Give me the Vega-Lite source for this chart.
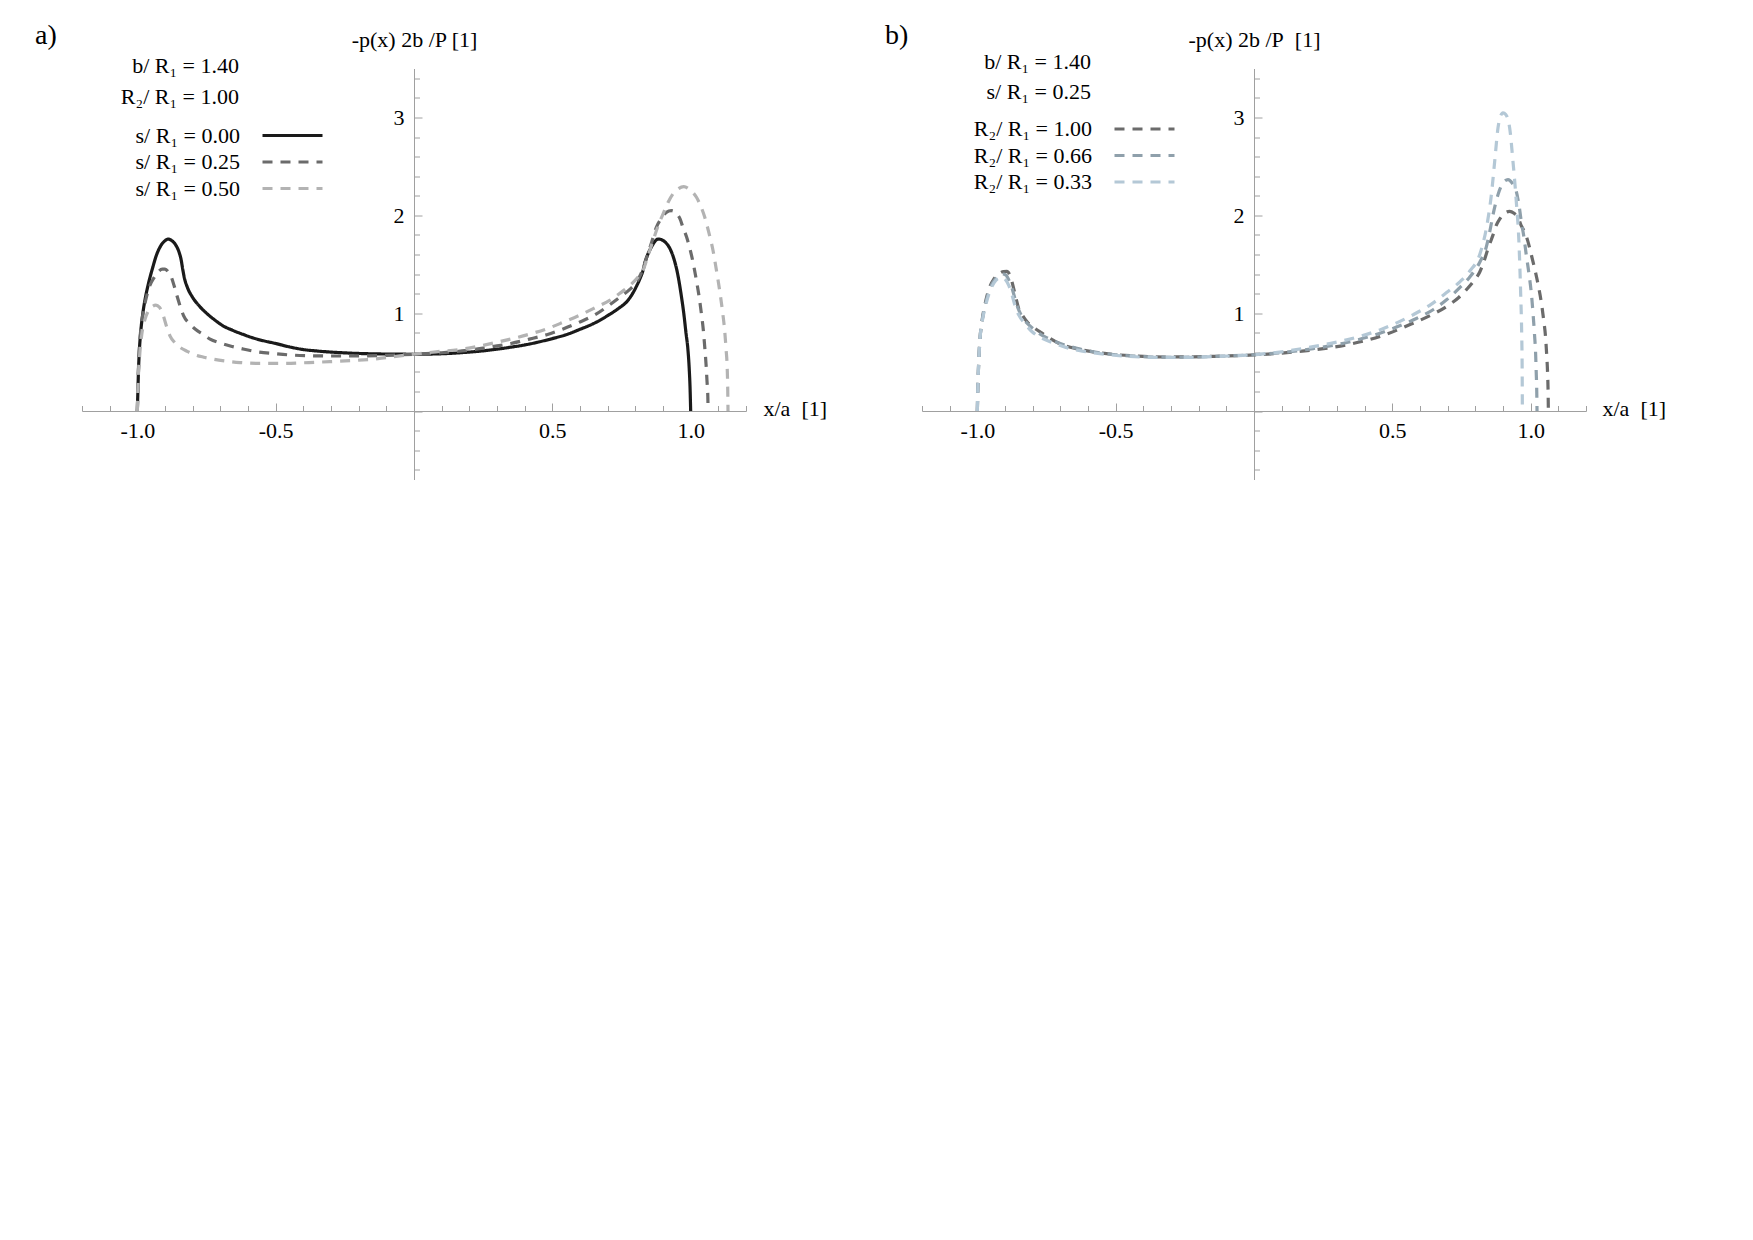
{
  "$schema": "https://vega.github.io/schema/vega-lite/v6.json",
  "background": "white",
  "padding": {"left": 35, "top": 21.5, "right": 5, "bottom": 5},
  "bounds": "flush",
  "spacing": 176,
  "resolve": {"scale": {"stroke": "independent", "strokeDash": "independent"}, "legend": {"stroke": "independent", "strokeDash": "independent"}},
  "config": {
    "font": "Liberation Serif",
    "view": {"stroke": null},
    "axis": {
      "grid": false, "domainColor": "#a0a0a0", "tickColor": "#a0a0a0", "domainWidth": 1, "tickWidth": 1,
      "labelFont": "Liberation Serif", "labelFontSize": 22, "labelColor": "black",
      "titleFont": "Liberation Serif", "titleFontSize": 22, "titleFontWeight": "normal", "titleColor": "black",
      "labelOverlap": false, "labelFlush": false
    },
    "legend": {
      "orient": "none", "padding": 0,
      "titleAlign": "right", "titleAnchor": "start", "titleFont": "Liberation Serif", "titleFontSize": 22, "titleLimit": 500,
      "titleFontWeight": "normal", "titleColor": "black",
      "labelFont": "Liberation Serif", "labelFontSize": 22, "labelColor": "black", "labelAlign": "right",
      "labelOffset": -63.5, "labelLimit": 400,
      "symbolType": "M-6,0H6", "symbolSize": 100, "symbolStrokeWidth": 3.2, "symbolOffset": 42.5,
      "rowPadding": 4.5
    },
    "title": {"font": "Liberation Serif", "fontSize": 28, "fontWeight": "normal", "color": "black", "anchor": "start", "frame": "group"}
  },
  "datasets": {
    "a": [
      {"c":"s/ R₁ = 0.00","x":-1.0,"y":0},{"c":"s/ R₁ = 0.00","x":-0.998,"y":0.2},{"c":"s/ R₁ = 0.00","x":-0.996,"y":0.4},{"c":"s/ R₁ = 0.00","x":-0.993,"y":0.6},{"c":"s/ R₁ = 0.00","x":-0.988,"y":0.8},{"c":"s/ R₁ = 0.00","x":-0.98,"y":1.0},{"c":"s/ R₁ = 0.00","x":-0.97,"y":1.17},{"c":"s/ R₁ = 0.00","x":-0.96,"y":1.3},{"c":"s/ R₁ = 0.00","x":-0.945,"y":1.46},{"c":"s/ R₁ = 0.00","x":-0.93,"y":1.6},{"c":"s/ R₁ = 0.00","x":-0.915,"y":1.69},{"c":"s/ R₁ = 0.00","x":-0.9,"y":1.74},{"c":"s/ R₁ = 0.00","x":-0.888,"y":1.757},{"c":"s/ R₁ = 0.00","x":-0.875,"y":1.74},{"c":"s/ R₁ = 0.00","x":-0.862,"y":1.7},{"c":"s/ R₁ = 0.00","x":-0.85,"y":1.63},{"c":"s/ R₁ = 0.00","x":-0.842,"y":1.55},{"c":"s/ R₁ = 0.00","x":-0.836,"y":1.45},{"c":"s/ R₁ = 0.00","x":-0.83,"y":1.36},{"c":"s/ R₁ = 0.00","x":-0.82,"y":1.27},{"c":"s/ R₁ = 0.00","x":-0.8,"y":1.16},{"c":"s/ R₁ = 0.00","x":-0.775,"y":1.07},{"c":"s/ R₁ = 0.00","x":-0.75,"y":1.0},{"c":"s/ R₁ = 0.00","x":-0.72,"y":0.93},{"c":"s/ R₁ = 0.00","x":-0.69,"y":0.87},{"c":"s/ R₁ = 0.00","x":-0.66,"y":0.83},{"c":"s/ R₁ = 0.00","x":-0.62,"y":0.785},{"c":"s/ R₁ = 0.00","x":-0.58,"y":0.745},{"c":"s/ R₁ = 0.00","x":-0.54,"y":0.715},{"c":"s/ R₁ = 0.00","x":-0.5,"y":0.69},{"c":"s/ R₁ = 0.00","x":-0.45,"y":0.655},{"c":"s/ R₁ = 0.00","x":-0.4,"y":0.628},{"c":"s/ R₁ = 0.00","x":-0.35,"y":0.613},{"c":"s/ R₁ = 0.00","x":-0.3,"y":0.602},{"c":"s/ R₁ = 0.00","x":-0.25,"y":0.594},{"c":"s/ R₁ = 0.00","x":-0.2,"y":0.588},{"c":"s/ R₁ = 0.00","x":-0.1,"y":0.582},{"c":"s/ R₁ = 0.00","x":0,"y":0.58},{"c":"s/ R₁ = 0.00","x":0.1,"y":0.585},{"c":"s/ R₁ = 0.00","x":0.175,"y":0.597},{"c":"s/ R₁ = 0.00","x":0.25,"y":0.615},{"c":"s/ R₁ = 0.00","x":0.3,"y":0.632},{"c":"s/ R₁ = 0.00","x":0.35,"y":0.652},{"c":"s/ R₁ = 0.00","x":0.4,"y":0.675},{"c":"s/ R₁ = 0.00","x":0.45,"y":0.705},{"c":"s/ R₁ = 0.00","x":0.5,"y":0.74},{"c":"s/ R₁ = 0.00","x":0.55,"y":0.78},{"c":"s/ R₁ = 0.00","x":0.6,"y":0.835},{"c":"s/ R₁ = 0.00","x":0.65,"y":0.895},{"c":"s/ R₁ = 0.00","x":0.7,"y":0.975},{"c":"s/ R₁ = 0.00","x":0.74,"y":1.05},{"c":"s/ R₁ = 0.00","x":0.77,"y":1.12},{"c":"s/ R₁ = 0.00","x":0.79,"y":1.2},{"c":"s/ R₁ = 0.00","x":0.805,"y":1.28},{"c":"s/ R₁ = 0.00","x":0.818,"y":1.36},{"c":"s/ R₁ = 0.00","x":0.827,"y":1.43},{"c":"s/ R₁ = 0.00","x":0.835,"y":1.52},{"c":"s/ R₁ = 0.00","x":0.845,"y":1.6},{"c":"s/ R₁ = 0.00","x":0.857,"y":1.67},{"c":"s/ R₁ = 0.00","x":0.87,"y":1.73},{"c":"s/ R₁ = 0.00","x":0.882,"y":1.757},{"c":"s/ R₁ = 0.00","x":0.895,"y":1.75},{"c":"s/ R₁ = 0.00","x":0.91,"y":1.72},{"c":"s/ R₁ = 0.00","x":0.925,"y":1.66},{"c":"s/ R₁ = 0.00","x":0.94,"y":1.55},{"c":"s/ R₁ = 0.00","x":0.953,"y":1.4},{"c":"s/ R₁ = 0.00","x":0.965,"y":1.2},{"c":"s/ R₁ = 0.00","x":0.975,"y":1.0},{"c":"s/ R₁ = 0.00","x":0.983,"y":0.8},{"c":"s/ R₁ = 0.00","x":0.99,"y":0.63},{"c":"s/ R₁ = 0.00","x":0.995,"y":0.42},{"c":"s/ R₁ = 0.00","x":0.998,"y":0.22},{"c":"s/ R₁ = 0.00","x":1.0,"y":0},

      {"c":"s/ R₁ = 0.25","x":-1.0,"y":0},{"c":"s/ R₁ = 0.25","x":-0.998,"y":0.25},{"c":"s/ R₁ = 0.25","x":-0.995,"y":0.5},{"c":"s/ R₁ = 0.25","x":-0.99,"y":0.75},{"c":"s/ R₁ = 0.25","x":-0.982,"y":0.95},{"c":"s/ R₁ = 0.25","x":-0.97,"y":1.13},{"c":"s/ R₁ = 0.25","x":-0.955,"y":1.28},{"c":"s/ R₁ = 0.25","x":-0.94,"y":1.36},{"c":"s/ R₁ = 0.25","x":-0.925,"y":1.42},{"c":"s/ R₁ = 0.25","x":-0.91,"y":1.45},{"c":"s/ R₁ = 0.25","x":-0.9,"y":1.45},{"c":"s/ R₁ = 0.25","x":-0.888,"y":1.42},{"c":"s/ R₁ = 0.25","x":-0.876,"y":1.36},{"c":"s/ R₁ = 0.25","x":-0.866,"y":1.27},{"c":"s/ R₁ = 0.25","x":-0.857,"y":1.18},{"c":"s/ R₁ = 0.25","x":-0.845,"y":1.07},{"c":"s/ R₁ = 0.25","x":-0.833,"y":0.975},{"c":"s/ R₁ = 0.25","x":-0.81,"y":0.89},{"c":"s/ R₁ = 0.25","x":-0.79,"y":0.835},{"c":"s/ R₁ = 0.25","x":-0.76,"y":0.78},{"c":"s/ R₁ = 0.25","x":-0.737,"y":0.735},{"c":"s/ R₁ = 0.25","x":-0.7,"y":0.695},{"c":"s/ R₁ = 0.25","x":-0.664,"y":0.665},{"c":"s/ R₁ = 0.25","x":-0.62,"y":0.635},{"c":"s/ R₁ = 0.25","x":-0.568,"y":0.605},{"c":"s/ R₁ = 0.25","x":-0.5,"y":0.585},{"c":"s/ R₁ = 0.25","x":-0.45,"y":0.573},{"c":"s/ R₁ = 0.25","x":-0.38,"y":0.565},{"c":"s/ R₁ = 0.25","x":-0.3,"y":0.562},{"c":"s/ R₁ = 0.25","x":-0.2,"y":0.563},{"c":"s/ R₁ = 0.25","x":-0.1,"y":0.569},{"c":"s/ R₁ = 0.25","x":0,"y":0.58},{"c":"s/ R₁ = 0.25","x":0.1,"y":0.595},{"c":"s/ R₁ = 0.25","x":0.2,"y":0.622},{"c":"s/ R₁ = 0.25","x":0.3,"y":0.665},{"c":"s/ R₁ = 0.25","x":0.35,"y":0.69},{"c":"s/ R₁ = 0.25","x":0.417,"y":0.734},{"c":"s/ R₁ = 0.25","x":0.48,"y":0.78},{"c":"s/ R₁ = 0.25","x":0.537,"y":0.836},{"c":"s/ R₁ = 0.25","x":0.6,"y":0.91},{"c":"s/ R₁ = 0.25","x":0.658,"y":0.99},{"c":"s/ R₁ = 0.25","x":0.7,"y":1.07},{"c":"s/ R₁ = 0.25","x":0.743,"y":1.16},{"c":"s/ R₁ = 0.25","x":0.779,"y":1.24},{"c":"s/ R₁ = 0.25","x":0.8,"y":1.3},{"c":"s/ R₁ = 0.25","x":0.82,"y":1.4},{"c":"s/ R₁ = 0.25","x":0.84,"y":1.56},{"c":"s/ R₁ = 0.25","x":0.857,"y":1.706},{"c":"s/ R₁ = 0.25","x":0.876,"y":1.877},{"c":"s/ R₁ = 0.25","x":0.895,"y":1.97},{"c":"s/ R₁ = 0.25","x":0.912,"y":2.03},{"c":"s/ R₁ = 0.25","x":0.93,"y":2.047},{"c":"s/ R₁ = 0.25","x":0.948,"y":2.02},{"c":"s/ R₁ = 0.25","x":0.962,"y":1.96},{"c":"s/ R₁ = 0.25","x":0.972,"y":1.877},{"c":"s/ R₁ = 0.25","x":0.985,"y":1.78},{"c":"s/ R₁ = 0.25","x":0.996,"y":1.672},{"c":"s/ R₁ = 0.25","x":1.01,"y":1.5},{"c":"s/ R₁ = 0.25","x":1.021,"y":1.33},{"c":"s/ R₁ = 0.25","x":1.031,"y":1.16},{"c":"s/ R₁ = 0.25","x":1.039,"y":0.99},{"c":"s/ R₁ = 0.25","x":1.046,"y":0.82},{"c":"s/ R₁ = 0.25","x":1.051,"y":0.649},{"c":"s/ R₁ = 0.25","x":1.056,"y":0.46},{"c":"s/ R₁ = 0.25","x":1.059,"y":0.307},{"c":"s/ R₁ = 0.25","x":1.062,"y":0.15},{"c":"s/ R₁ = 0.25","x":1.063,"y":0},

      {"c":"s/ R₁ = 0.50","x":-1.0,"y":0},{"c":"s/ R₁ = 0.50","x":-0.997,"y":0.3},{"c":"s/ R₁ = 0.50","x":-0.992,"y":0.55},{"c":"s/ R₁ = 0.50","x":-0.984,"y":0.78},{"c":"s/ R₁ = 0.50","x":-0.972,"y":0.94},{"c":"s/ R₁ = 0.50","x":-0.96,"y":1.024},{"c":"s/ R₁ = 0.50","x":-0.945,"y":1.07},{"c":"s/ R₁ = 0.50","x":-0.933,"y":1.082},{"c":"s/ R₁ = 0.50","x":-0.92,"y":1.06},{"c":"s/ R₁ = 0.50","x":-0.906,"y":0.972},{"c":"s/ R₁ = 0.50","x":-0.894,"y":0.86},{"c":"s/ R₁ = 0.50","x":-0.882,"y":0.768},{"c":"s/ R₁ = 0.50","x":-0.865,"y":0.7},{"c":"s/ R₁ = 0.50","x":-0.845,"y":0.649},{"c":"s/ R₁ = 0.50","x":-0.82,"y":0.61},{"c":"s/ R₁ = 0.50","x":-0.797,"y":0.58},{"c":"s/ R₁ = 0.50","x":-0.76,"y":0.55},{"c":"s/ R₁ = 0.50","x":-0.725,"y":0.529},{"c":"s/ R₁ = 0.50","x":-0.68,"y":0.51},{"c":"s/ R₁ = 0.50","x":-0.628,"y":0.495},{"c":"s/ R₁ = 0.50","x":-0.56,"y":0.486},{"c":"s/ R₁ = 0.50","x":-0.48,"y":0.486},{"c":"s/ R₁ = 0.50","x":-0.38,"y":0.495},{"c":"s/ R₁ = 0.50","x":-0.3,"y":0.505},{"c":"s/ R₁ = 0.50","x":-0.2,"y":0.519},{"c":"s/ R₁ = 0.50","x":-0.13,"y":0.535},{"c":"s/ R₁ = 0.50","x":-0.079,"y":0.553},{"c":"s/ R₁ = 0.50","x":0,"y":0.58},{"c":"s/ R₁ = 0.50","x":0.08,"y":0.605},{"c":"s/ R₁ = 0.50","x":0.175,"y":0.632},{"c":"s/ R₁ = 0.50","x":0.296,"y":0.7},{"c":"s/ R₁ = 0.50","x":0.417,"y":0.785},{"c":"s/ R₁ = 0.50","x":0.48,"y":0.84},{"c":"s/ R₁ = 0.50","x":0.537,"y":0.904},{"c":"s/ R₁ = 0.50","x":0.6,"y":0.98},{"c":"s/ R₁ = 0.50","x":0.658,"y":1.06},{"c":"s/ R₁ = 0.50","x":0.707,"y":1.13},{"c":"s/ R₁ = 0.50","x":0.743,"y":1.2},{"c":"s/ R₁ = 0.50","x":0.779,"y":1.28},{"c":"s/ R₁ = 0.50","x":0.81,"y":1.37},{"c":"s/ R₁ = 0.50","x":0.827,"y":1.433},{"c":"s/ R₁ = 0.50","x":0.845,"y":1.58},{"c":"s/ R₁ = 0.50","x":0.864,"y":1.74},{"c":"s/ R₁ = 0.50","x":0.882,"y":1.89},{"c":"s/ R₁ = 0.50","x":0.9,"y":2.013},{"c":"s/ R₁ = 0.50","x":0.918,"y":2.13},{"c":"s/ R₁ = 0.50","x":0.936,"y":2.218},{"c":"s/ R₁ = 0.50","x":0.955,"y":2.27},{"c":"s/ R₁ = 0.50","x":0.975,"y":2.293},{"c":"s/ R₁ = 0.50","x":0.995,"y":2.265},{"c":"s/ R₁ = 0.50","x":1.021,"y":2.184},{"c":"s/ R₁ = 0.50","x":1.037,"y":2.09},{"c":"s/ R₁ = 0.50","x":1.051,"y":1.979},{"c":"s/ R₁ = 0.50","x":1.066,"y":1.82},{"c":"s/ R₁ = 0.50","x":1.081,"y":1.638},{"c":"s/ R₁ = 0.50","x":1.093,"y":1.44},{"c":"s/ R₁ = 0.50","x":1.105,"y":1.228},{"c":"s/ R₁ = 0.50","x":1.115,"y":1.02},{"c":"s/ R₁ = 0.50","x":1.123,"y":0.819},{"c":"s/ R₁ = 0.50","x":1.128,"y":0.63},{"c":"s/ R₁ = 0.50","x":1.132,"y":0.444},{"c":"s/ R₁ = 0.50","x":1.134,"y":0.22},{"c":"s/ R₁ = 0.50","x":1.135,"y":0}
    ],
    "b": [
      {"c":"R₂/ R₁ = 1.00","x":-1.0,"y":0},{"c":"R₂/ R₁ = 1.00","x":-0.998,"y":0.25},{"c":"R₂/ R₁ = 1.00","x":-0.995,"y":0.5},{"c":"R₂/ R₁ = 1.00","x":-0.99,"y":0.75},{"c":"R₂/ R₁ = 1.00","x":-0.982,"y":0.94},{"c":"R₂/ R₁ = 1.00","x":-0.97,"y":1.12},{"c":"R₂/ R₁ = 1.00","x":-0.955,"y":1.27},{"c":"R₂/ R₁ = 1.00","x":-0.94,"y":1.35},{"c":"R₂/ R₁ = 1.00","x":-0.923,"y":1.4},{"c":"R₂/ R₁ = 1.00","x":-0.905,"y":1.425},{"c":"R₂/ R₁ = 1.00","x":-0.893,"y":1.426},{"c":"R₂/ R₁ = 1.00","x":-0.88,"y":1.37},{"c":"R₂/ R₁ = 1.00","x":-0.869,"y":1.256},{"c":"R₂/ R₁ = 1.00","x":-0.86,"y":1.15},{"c":"R₂/ R₁ = 1.00","x":-0.851,"y":1.051},{"c":"R₂/ R₁ = 1.00","x":-0.835,"y":0.97},{"c":"R₂/ R₁ = 1.00","x":-0.821,"y":0.914},{"c":"R₂/ R₁ = 1.00","x":-0.795,"y":0.85},{"c":"R₂/ R₁ = 1.00","x":-0.766,"y":0.795},{"c":"R₂/ R₁ = 1.00","x":-0.736,"y":0.74},{"c":"R₂/ R₁ = 1.00","x":-0.706,"y":0.693},{"c":"R₂/ R₁ = 1.00","x":-0.634,"y":0.632},{"c":"R₂/ R₁ = 1.00","x":-0.56,"y":0.595},{"c":"R₂/ R₁ = 1.00","x":-0.496,"y":0.575},{"c":"R₂/ R₁ = 1.00","x":-0.4,"y":0.558},{"c":"R₂/ R₁ = 1.00","x":-0.315,"y":0.552},{"c":"R₂/ R₁ = 1.00","x":-0.22,"y":0.554},{"c":"R₂/ R₁ = 1.00","x":-0.135,"y":0.559},{"c":"R₂/ R₁ = 1.00","x":-0.06,"y":0.566},{"c":"R₂/ R₁ = 1.00","x":0,"y":0.573},{"c":"R₂/ R₁ = 1.00","x":0.1,"y":0.592},{"c":"R₂/ R₁ = 1.00","x":0.214,"y":0.624},{"c":"R₂/ R₁ = 1.00","x":0.335,"y":0.676},{"c":"R₂/ R₁ = 1.00","x":0.455,"y":0.761},{"c":"R₂/ R₁ = 1.00","x":0.575,"y":0.897},{"c":"R₂/ R₁ = 1.00","x":0.64,"y":0.98},{"c":"R₂/ R₁ = 1.00","x":0.696,"y":1.068},{"c":"R₂/ R₁ = 1.00","x":0.74,"y":1.16},{"c":"R₂/ R₁ = 1.00","x":0.768,"y":1.24},{"c":"R₂/ R₁ = 1.00","x":0.795,"y":1.33},{"c":"R₂/ R₁ = 1.00","x":0.816,"y":1.42},{"c":"R₂/ R₁ = 1.00","x":0.83,"y":1.52},{"c":"R₂/ R₁ = 1.00","x":0.846,"y":1.66},{"c":"R₂/ R₁ = 1.00","x":0.864,"y":1.8},{"c":"R₂/ R₁ = 1.00","x":0.876,"y":1.9},{"c":"R₂/ R₁ = 1.00","x":0.888,"y":1.96},{"c":"R₂/ R₁ = 1.00","x":0.905,"y":2.02},{"c":"R₂/ R₁ = 1.00","x":0.924,"y":2.04},{"c":"R₂/ R₁ = 1.00","x":0.94,"y":2.02},{"c":"R₂/ R₁ = 1.00","x":0.954,"y":1.98},{"c":"R₂/ R₁ = 1.00","x":0.965,"y":1.9},{"c":"R₂/ R₁ = 1.00","x":0.978,"y":1.83},{"c":"R₂/ R₁ = 1.00","x":0.99,"y":1.733},{"c":"R₂/ R₁ = 1.00","x":1.002,"y":1.6},{"c":"R₂/ R₁ = 1.00","x":1.014,"y":1.46},{"c":"R₂/ R₁ = 1.00","x":1.027,"y":1.29},{"c":"R₂/ R₁ = 1.00","x":1.039,"y":1.1},{"c":"R₂/ R₁ = 1.00","x":1.047,"y":0.93},{"c":"R₂/ R₁ = 1.00","x":1.054,"y":0.75},{"c":"R₂/ R₁ = 1.00","x":1.058,"y":0.57},{"c":"R₂/ R₁ = 1.00","x":1.061,"y":0.4},{"c":"R₂/ R₁ = 1.00","x":1.063,"y":0.2},{"c":"R₂/ R₁ = 1.00","x":1.064,"y":0},

      {"c":"R₂/ R₁ = 0.66","x":-1.0,"y":0},{"c":"R₂/ R₁ = 0.66","x":-0.998,"y":0.25},{"c":"R₂/ R₁ = 0.66","x":-0.995,"y":0.5},{"c":"R₂/ R₁ = 0.66","x":-0.99,"y":0.75},{"c":"R₂/ R₁ = 0.66","x":-0.982,"y":0.93},{"c":"R₂/ R₁ = 0.66","x":-0.97,"y":1.1},{"c":"R₂/ R₁ = 0.66","x":-0.955,"y":1.25},{"c":"R₂/ R₁ = 0.66","x":-0.94,"y":1.33},{"c":"R₂/ R₁ = 0.66","x":-0.925,"y":1.38},{"c":"R₂/ R₁ = 0.66","x":-0.91,"y":1.4},{"c":"R₂/ R₁ = 0.66","x":-0.897,"y":1.39},{"c":"R₂/ R₁ = 0.66","x":-0.885,"y":1.33},{"c":"R₂/ R₁ = 0.66","x":-0.873,"y":1.24},{"c":"R₂/ R₁ = 0.66","x":-0.862,"y":1.13},{"c":"R₂/ R₁ = 0.66","x":-0.85,"y":1.03},{"c":"R₂/ R₁ = 0.66","x":-0.835,"y":0.95},{"c":"R₂/ R₁ = 0.66","x":-0.81,"y":0.87},{"c":"R₂/ R₁ = 0.66","x":-0.78,"y":0.8},{"c":"R₂/ R₁ = 0.66","x":-0.75,"y":0.75},{"c":"R₂/ R₁ = 0.66","x":-0.7,"y":0.69},{"c":"R₂/ R₁ = 0.66","x":-0.64,"y":0.64},{"c":"R₂/ R₁ = 0.66","x":-0.58,"y":0.605},{"c":"R₂/ R₁ = 0.66","x":-0.5,"y":0.575},{"c":"R₂/ R₁ = 0.66","x":-0.4,"y":0.556},{"c":"R₂/ R₁ = 0.66","x":-0.3,"y":0.549},{"c":"R₂/ R₁ = 0.66","x":-0.2,"y":0.552},{"c":"R₂/ R₁ = 0.66","x":-0.1,"y":0.562},{"c":"R₂/ R₁ = 0.66","x":0,"y":0.575},{"c":"R₂/ R₁ = 0.66","x":0.1,"y":0.597},{"c":"R₂/ R₁ = 0.66","x":0.214,"y":0.638},{"c":"R₂/ R₁ = 0.66","x":0.335,"y":0.7},{"c":"R₂/ R₁ = 0.66","x":0.455,"y":0.795},{"c":"R₂/ R₁ = 0.66","x":0.575,"y":0.93},{"c":"R₂/ R₁ = 0.66","x":0.65,"y":1.04},{"c":"R₂/ R₁ = 0.66","x":0.696,"y":1.136},{"c":"R₂/ R₁ = 0.66","x":0.74,"y":1.25},{"c":"R₂/ R₁ = 0.66","x":0.78,"y":1.37},{"c":"R₂/ R₁ = 0.66","x":0.816,"y":1.52},{"c":"R₂/ R₁ = 0.66","x":0.84,"y":1.68},{"c":"R₂/ R₁ = 0.66","x":0.852,"y":1.83},{"c":"R₂/ R₁ = 0.66","x":0.864,"y":2.006},{"c":"R₂/ R₁ = 0.66","x":0.882,"y":2.211},{"c":"R₂/ R₁ = 0.66","x":0.9,"y":2.33},{"c":"R₂/ R₁ = 0.66","x":0.918,"y":2.364},{"c":"R₂/ R₁ = 0.66","x":0.935,"y":2.32},{"c":"R₂/ R₁ = 0.66","x":0.948,"y":2.245},{"c":"R₂/ R₁ = 0.66","x":0.958,"y":2.1},{"c":"R₂/ R₁ = 0.66","x":0.966,"y":1.938},{"c":"R₂/ R₁ = 0.66","x":0.976,"y":1.77},{"c":"R₂/ R₁ = 0.66","x":0.984,"y":1.597},{"c":"R₂/ R₁ = 0.66","x":0.994,"y":1.4},{"c":"R₂/ R₁ = 0.66","x":1.003,"y":1.187},{"c":"R₂/ R₁ = 0.66","x":1.009,"y":0.98},{"c":"R₂/ R₁ = 0.66","x":1.014,"y":0.778},{"c":"R₂/ R₁ = 0.66","x":1.018,"y":0.58},{"c":"R₂/ R₁ = 0.66","x":1.02,"y":0.402},{"c":"R₂/ R₁ = 0.66","x":1.022,"y":0.2},{"c":"R₂/ R₁ = 0.66","x":1.023,"y":0},

      {"c":"R₂/ R₁ = 0.33","x":-1.0,"y":0},{"c":"R₂/ R₁ = 0.33","x":-0.998,"y":0.25},{"c":"R₂/ R₁ = 0.33","x":-0.995,"y":0.5},{"c":"R₂/ R₁ = 0.33","x":-0.99,"y":0.75},{"c":"R₂/ R₁ = 0.33","x":-0.982,"y":0.92},{"c":"R₂/ R₁ = 0.33","x":-0.97,"y":1.08},{"c":"R₂/ R₁ = 0.33","x":-0.955,"y":1.22},{"c":"R₂/ R₁ = 0.33","x":-0.94,"y":1.31},{"c":"R₂/ R₁ = 0.33","x":-0.925,"y":1.355},{"c":"R₂/ R₁ = 0.33","x":-0.911,"y":1.365},{"c":"R₂/ R₁ = 0.33","x":-0.898,"y":1.34},{"c":"R₂/ R₁ = 0.33","x":-0.886,"y":1.28},{"c":"R₂/ R₁ = 0.33","x":-0.874,"y":1.18},{"c":"R₂/ R₁ = 0.33","x":-0.863,"y":1.07},{"c":"R₂/ R₁ = 0.33","x":-0.85,"y":0.98},{"c":"R₂/ R₁ = 0.33","x":-0.83,"y":0.9},{"c":"R₂/ R₁ = 0.33","x":-0.803,"y":0.812},{"c":"R₂/ R₁ = 0.33","x":-0.77,"y":0.75},{"c":"R₂/ R₁ = 0.33","x":-0.73,"y":0.7},{"c":"R₂/ R₁ = 0.33","x":-0.68,"y":0.65},{"c":"R₂/ R₁ = 0.33","x":-0.62,"y":0.612},{"c":"R₂/ R₁ = 0.33","x":-0.55,"y":0.583},{"c":"R₂/ R₁ = 0.33","x":-0.45,"y":0.558},{"c":"R₂/ R₁ = 0.33","x":-0.35,"y":0.547},{"c":"R₂/ R₁ = 0.33","x":-0.25,"y":0.547},{"c":"R₂/ R₁ = 0.33","x":-0.15,"y":0.555},{"c":"R₂/ R₁ = 0.33","x":-0.05,"y":0.567},{"c":"R₂/ R₁ = 0.33","x":0,"y":0.575},{"c":"R₂/ R₁ = 0.33","x":0.1,"y":0.605},{"c":"R₂/ R₁ = 0.33","x":0.214,"y":0.658},{"c":"R₂/ R₁ = 0.33","x":0.335,"y":0.727},{"c":"R₂/ R₁ = 0.33","x":0.455,"y":0.829},{"c":"R₂/ R₁ = 0.33","x":0.575,"y":0.983},{"c":"R₂/ R₁ = 0.33","x":0.64,"y":1.09},{"c":"R₂/ R₁ = 0.33","x":0.696,"y":1.21},{"c":"R₂/ R₁ = 0.33","x":0.744,"y":1.32},{"c":"R₂/ R₁ = 0.33","x":0.78,"y":1.43},{"c":"R₂/ R₁ = 0.33","x":0.816,"y":1.6},{"c":"R₂/ R₁ = 0.33","x":0.84,"y":1.87},{"c":"R₂/ R₁ = 0.33","x":0.858,"y":2.211},{"c":"R₂/ R₁ = 0.33","x":0.87,"y":2.552},{"c":"R₂/ R₁ = 0.33","x":0.882,"y":2.894},{"c":"R₂/ R₁ = 0.33","x":0.892,"y":3.02},{"c":"R₂/ R₁ = 0.33","x":0.9,"y":3.047},{"c":"R₂/ R₁ = 0.33","x":0.91,"y":3.03},{"c":"R₂/ R₁ = 0.33","x":0.924,"y":2.894},{"c":"R₂/ R₁ = 0.33","x":0.936,"y":2.552},{"c":"R₂/ R₁ = 0.33","x":0.948,"y":2.142},{"c":"R₂/ R₁ = 0.33","x":0.958,"y":1.699},{"c":"R₂/ R₁ = 0.33","x":0.964,"y":1.187},{"c":"R₂/ R₁ = 0.33","x":0.9675,"y":0.8},{"c":"R₂/ R₁ = 0.33","x":0.9692,"y":0.45},{"c":"R₂/ R₁ = 0.33","x":0.97,"y":0}
    ]
  },
  "hconcat": [
    {
      "width": 664, "height": 411,
      "title": {"text": "a)", "dx": -47, "dy": 25},
      "data": {"name": "a"},
      "mark": {"type": "line", "strokeWidth": 3.2, "interpolate": "monotone"},
      "encoding": {
        "x": {"field": "x", "type": "quantitative",
          "scale": {"domain": [-1.2, 1.2], "nice": false, "zero": false},
          "axis": {"orient": "bottom", "offset": -68.5,
            "values": [-1.2,-1.1,-1.0,-0.9,-0.8,-0.7,-0.6,-0.5,-0.4,-0.3,-0.2,-0.1,0,0.1,0.2,0.3,0.4,0.5,0.6,0.7,0.8,0.9,1.0,1.1,1.2],
            "tickSize": {"condition": {"test": "abs(datum.value*2 - round(datum.value*2)) < 0.001", "value": -8}, "value": -5.5},
            "labelPadding": 17,
            "labelExpr": "(datum.value == 0 || abs(datum.value*2 - round(datum.value*2)) > 0.001) ? '' : replace(format(datum.value, '.1f'), '\u2212', '-')",
            "title": "x/a\u00a0\u00a0[1]", "titleX": 681, "titleY": -3, "titleAlign": "left", "titleBaseline": "middle", "titleAngle": 0}},
        "y": {"field": "y", "type": "quantitative",
          "scale": {"domain": [-0.7, 3.5], "nice": false, "zero": false},
          "axis": {"orient": "left", "offset": -332,
            "values": [-0.6,-0.4,-0.2,0,0.2,0.4,0.6,0.8,1,1.2,1.4,1.6,1.8,2,2.2,2.4,2.6,2.8,3,3.2,3.4],
            "tickSize": {"condition": {"test": "abs(datum.value - round(datum.value)) < 0.001", "value": -8}, "value": -5.5},
            "labelPadding": 18,
            "labelExpr": "(datum.value >= 1 && abs(datum.value - round(datum.value)) < 0.001) ? format(datum.value, 'd') : ''",
            "title": "-p(x) 2b /P [1]", "titleX": 0, "titleY": -29, "titleAlign": "center", "titleBaseline": "middle", "titleAngle": 0}},
        "stroke": {"field": "c", "type": "nominal",
          "scale": {"domain": ["s/ R₁ = 0.00", "s/ R₁ = 0.25", "s/ R₁ = 0.50"], "range": ["#1a1a1a", "#6b6b6b", "#b3b3b3"]},
          "legend": {"title": ["b/ R₁ = 1.40", "R₂/ R₁ = 1.00"], "legendX": 39, "legendY": -13, "titleLineHeight": 31, "titlePadding": 16}},
        "strokeDash": {"field": "c", "type": "nominal",
          "scale": {"domain": ["s/ R₁ = 0.00", "s/ R₁ = 0.25", "s/ R₁ = 0.50"], "range": [[1, 0], [10, 8], [10, 8]]},
          "legend": {"title": ["b/ R₁ = 1.40", "R₂/ R₁ = 1.00"], "legendX": 39, "legendY": -13, "titleLineHeight": 31, "titlePadding": 16}}
      }
    },
    {
      "width": 664, "height": 411,
      "title": {"text": "b)", "dx": -37, "dy": 25},
      "data": {"name": "b"},
      "mark": {"type": "line", "strokeWidth": 3.2, "interpolate": "monotone"},
      "encoding": {
        "x": {"field": "x", "type": "quantitative",
          "scale": {"domain": [-1.2, 1.2], "nice": false, "zero": false},
          "axis": {"orient": "bottom", "offset": -68.5,
            "values": [-1.2,-1.1,-1.0,-0.9,-0.8,-0.7,-0.6,-0.5,-0.4,-0.3,-0.2,-0.1,0,0.1,0.2,0.3,0.4,0.5,0.6,0.7,0.8,0.9,1.0,1.1,1.2],
            "tickSize": {"condition": {"test": "abs(datum.value*2 - round(datum.value*2)) < 0.001", "value": -8}, "value": -5.5},
            "labelPadding": 17,
            "labelExpr": "(datum.value == 0 || abs(datum.value*2 - round(datum.value*2)) > 0.001) ? '' : replace(format(datum.value, '.1f'), '\u2212', '-')",
            "title": "x/a\u00a0\u00a0[1]", "titleX": 680, "titleY": -3, "titleAlign": "left", "titleBaseline": "middle", "titleAngle": 0}},
        "y": {"field": "y", "type": "quantitative",
          "scale": {"domain": [-0.7, 3.5], "nice": false, "zero": false},
          "axis": {"orient": "left", "offset": -332,
            "values": [-0.6,-0.4,-0.2,0,0.2,0.4,0.6,0.8,1,1.2,1.4,1.6,1.8,2,2.2,2.4,2.6,2.8,3,3.2,3.4],
            "tickSize": {"condition": {"test": "abs(datum.value - round(datum.value)) < 0.001", "value": -8}, "value": -5.5},
            "labelPadding": 18,
            "labelExpr": "(datum.value >= 1 && abs(datum.value - round(datum.value)) < 0.001) ? format(datum.value, 'd') : ''",
            "title": "-p(x) 2b /P\u00a0\u00a0[1]", "titleX": 0, "titleY": -29, "titleAlign": "center", "titleBaseline": "middle", "titleAngle": 0}},
        "stroke": {"field": "c", "type": "nominal",
          "scale": {"domain": ["R₂/ R₁ = 1.00", "R₂/ R₁ = 0.66", "R₂/ R₁ = 0.33"], "range": ["#6b6b6b", "#8fa0ab", "#b4c8d6"]},
          "legend": {"title": ["b/ R₁ = 1.40", "s/ R₁ = 0.25"], "legendX": 62, "legendY": -17, "titleLineHeight": 30, "titlePadding": 14.5}},
        "strokeDash": {"field": "c", "type": "nominal",
          "scale": {"domain": ["R₂/ R₁ = 1.00", "R₂/ R₁ = 0.66", "R₂/ R₁ = 0.33"], "range": [[10, 8], [10, 8], [10, 8]]},
          "legend": {"title": ["b/ R₁ = 1.40", "s/ R₁ = 0.25"], "legendX": 62, "legendY": -17, "titleLineHeight": 30, "titlePadding": 14.5}}
      }
    }
  ]
}
